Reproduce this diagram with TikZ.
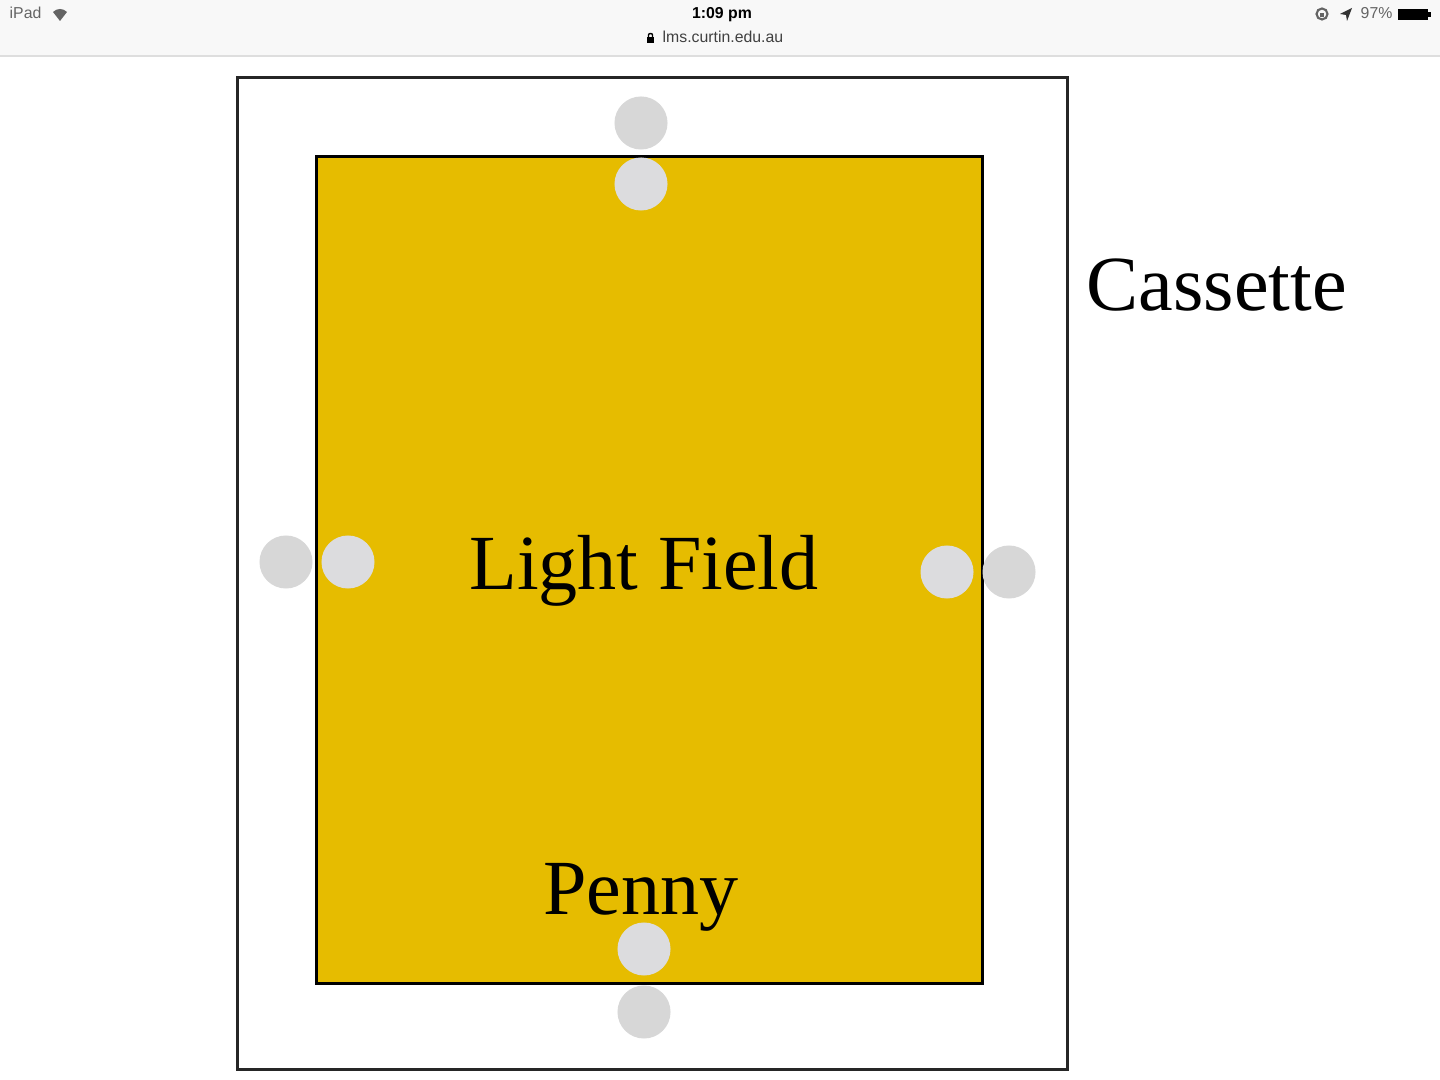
\documentclass[tikz,border=0pt]{standalone}
\usepackage{fontspec}
\setmainfont{Liberation Serif}
\newfontfamily\uisans{Liberation Sans}
\definecolor{fieldyellow}{RGB}{230,188,0}
\definecolor{dotgray}{RGB}{215,215,215}
\definecolor{dotlight}{RGB}{220,220,222}
\definecolor{barbg}{RGB}{248,248,248}
\definecolor{barline}{RGB}{222,222,222}
\definecolor{bartext}{RGB}{100,100,100}
\begin{document}
\begin{tikzpicture}[x=0.01cm,y=-0.01cm,
  dot/.style={circle,fill=dotgray,draw=none,inner sep=0pt,minimum size=0.53cm},
  dotin/.style={dot,fill=dotlight},
  bigtext/.style={font=\fontsize{22.2pt}{26pt}\selectfont,inner sep=0pt,anchor=base},
  bartxt/.style={font=\uisans\fontsize{4.5pt}{5.4pt}\selectfont,inner sep=0pt,anchor=base}]
\useasboundingbox (0,0) rectangle (1440,1080);
\fill[white] (0,0) rectangle (1440,1080);
% status bar
\fill[barbg] (0,0) rectangle (1440,55);
\draw[barline,line width=0.5pt] (0,56) -- (1440,56);
\node[bartxt,text=bartext,anchor=base west] (ipad) at (9,19) {iPad};
\fill[bartext] (60,21) -- (53,12) .. controls (57,8) and (63,8) .. (67,12) -- cycle;
\node[bartxt,font=\uisans\bfseries\fontsize{4.5pt}{5.4pt}\selectfont] (time) at (722,19) {1:09 pm};
\node[bartxt,text=black!75,anchor=base west] (url) at (662,43) {lms.curtin.edu.au};
\fill[black] (647,37) rectangle (654,43);
\draw[black,line width=0.4pt] (648.5,37) -- (648.5,35) .. controls (648.5,33) and (652.5,33) .. (652.5,35) -- (652.5,37);
\draw[bartext,line width=0.6pt] (1322,14) circle[radius=5.5];
\fill[bartext] (1320,13) rectangle (1324,17);
\fill[black!80] (1352,8) -- (1340,14) -- (1346,15) -- (1347,21) -- cycle;
\node[bartxt,text=bartext,anchor=base west] (batt) at (1360,19) {97\%};
\fill[black] (1398,9) rectangle (1428,20);
\fill[black] (1428,12) rectangle (1431,17);
% cassette and light field
\node[draw=black!85,line width=0.75pt,minimum width=8.29cm,minimum height=9.91cm,inner sep=0pt] (cassette) at (652.5,573.5) {};
\node[draw=black,fill=fieldyellow,line width=0.75pt,minimum width=6.65cm,minimum height=8.26cm,inner sep=0pt] (field) at (649.5,570) {};
% markers
\node[dot] (topout) at (641,123) {};
\node[dotin] (topin) at (641,184) {};
\node[dot] (leftout) at (286,562) {};
\node[dotin] (leftin) at (348,562) {};
\node[dotin] (rightin) at (947,572) {};
\node[dot] (rightout) at (1009,572) {};
\node[dotin] (botin) at (644,949) {};
\node[dot] (botout) at (644,1012) {};
% labels
\node[bigtext,anchor=base west] (lcassette) at (1086,311) {Cassette};
\node[bigtext] (lfield) at (644,590) {Light Field};
\node[bigtext] (lpenny) at (641,914) {Penny};
\end{tikzpicture}
\end{document}
